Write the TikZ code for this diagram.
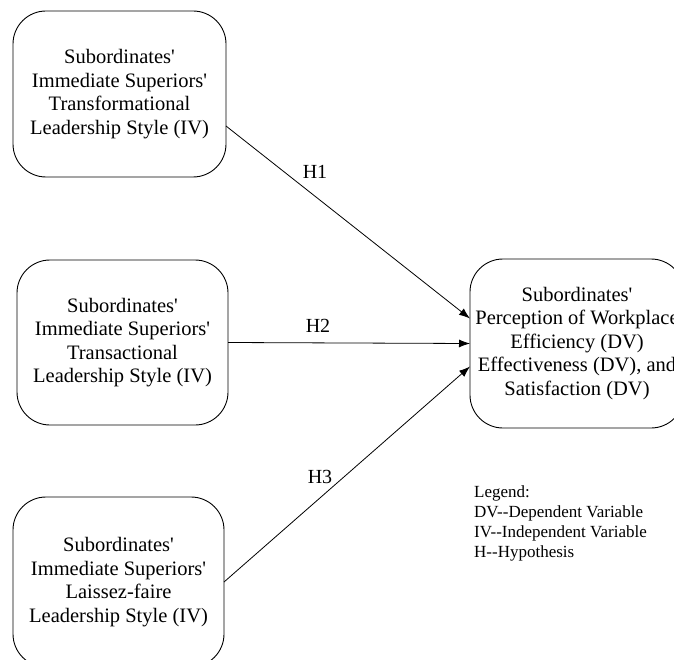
\documentclass[tikz,border=0pt]{standalone}
\usepackage{fontspec}
\setmainfont{Liberation Serif}
\usetikzlibrary{arrows.meta}
\newcommand{\sq}{\textquotesingle}
\newcommand{\dd}{{-}{-}}
\begin{document}
\begin{tikzpicture}[x=1pt,y=-1pt,
  varbox/.style={draw, line width=0.9pt, rounded corners=33pt, inner sep=0pt, outer sep=0pt,
    align=center, font=\fontsize{20.5}{23.5}\selectfont},
  hyparrow/.style={draw, line width=0.8pt, -{Latex[length=11pt,width=8pt]}},
  hlabel/.style={font=\fontsize{20}{24}\selectfont, inner sep=0pt},
  legendtext/.style={font=\fontsize{17}{20}\selectfont, align=left, inner sep=0pt, anchor=base west}
]
\useasboundingbox (0,0) rectangle (674,660);
\begin{scope}
\clip (0,0) rectangle (674,660);
\node[varbox, minimum width=213pt, minimum height=166pt] (b1) at (119.5,94)
  {Subordinates\sq\\Immediate Superiors\sq\\Transformational\\Leadership Style (IV)};
\node[varbox, minimum width=211pt, minimum height=165pt] (b2) at (122.5,342.5)
  {Subordinates\sq\\Immediate Superiors\sq\\Transactional\\Leadership Style (IV)};
\node[varbox, minimum width=211pt, minimum height=170pt] (b3) at (118.5,582)
  {Subordinates\sq\\Immediate Superiors\sq\\Laissez-faire\\Leadership Style (IV)};
\node[varbox, minimum width=214pt, minimum height=169pt] (dv) at (577,343.5)
  {Subordinates\sq\\Perception of Workplace\\Efficiency (DV)\\Effectiveness (DV), and\\Satisfaction (DV)};

\draw[hyparrow] ([yshift=-32pt]b1.east) -- ([yshift=25pt]dv.west);
\draw[hyparrow] (b2.east) -- (dv.west);
\draw[hyparrow] (b3.east) -- ([yshift=-23pt]dv.west);

\node[hlabel] (h1) at (315,172) {H1};
\node[hlabel] (h2) at (318,326) {H2};
\node[hlabel] (h3) at (320,477) {H3};

\node[legendtext] (legend) at (474,557)
  {Legend:\\DV\dd Dependent Variable\\IV\dd Independent Variable\\H\dd Hypothesis};
\end{scope}
\end{tikzpicture}
\end{document}
